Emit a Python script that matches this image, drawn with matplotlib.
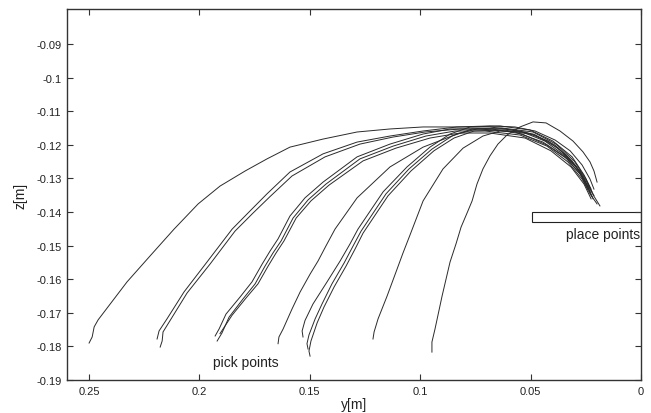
import matplotlib
matplotlib.use("Agg")
import matplotlib.pyplot as plt
from matplotlib.patches import Rectangle

plt.rcParams['font.family'] = ['Liberation Sans', 'DejaVu Sans']

# Trajectories (y[m], z[m])
curve_a_y = [0.2500, 0.2486, 0.2477, 0.2459, 0.2328, 0.2224, 0.2115, 0.2006, 0.1907, 0.1793, 0.1694, 0.1590,
             0.1440, 0.1286, 0.1137, 0.0987, 0.0833, 0.0684, 0.0571, 0.0480, 0.0389, 0.0321, 0.0267, 0.0231, 0.0213]
curve_a_z = [-0.1790, -0.1772, -0.1742, -0.1721, -0.1608, -0.1531, -0.1451, -0.1376, -0.1323, -0.1278, -0.1242, -0.1207,
             -0.1183, -0.1162, -0.1153, -0.1147, -0.1147, -0.1144, -0.1147, -0.1159, -0.1186, -0.1218, -0.1260, -0.1302, -0.1332]

curve_2a_y = [0.2192, 0.2183, 0.2147, 0.2070, 0.1966, 0.1852, 0.1771, 0.1694, 0.1590, 0.1440, 0.1286, 0.1137,
              0.0987, 0.0833, 0.0684, 0.0548, 0.0435, 0.0344, 0.0276, 0.0240, 0.0222]
curve_2a_z = [-0.1778, -0.1754, -0.1718, -0.1638, -0.1549, -0.1451, -0.1397, -0.1346, -0.1281, -0.1227, -0.1192, -0.1174,
              -0.1159, -0.1147, -0.1147, -0.1159, -0.1189, -0.1233, -0.1278, -0.1317, -0.1340]

curve_2b_y = [0.2178, 0.2169, 0.2165, 0.2133, 0.2056, 0.1952, 0.1839, 0.1757, 0.1680, 0.1581, 0.1431, 0.1273,
              0.1123, 0.0978, 0.0820, 0.0675, 0.0539, 0.0426, 0.0335, 0.0272, 0.0236, 0.0213]
curve_2b_z = [-0.1802, -0.1784, -0.1757, -0.1723, -0.1641, -0.1555, -0.1457, -0.1403, -0.1354, -0.1293, -0.1236, -0.1198,
              -0.1177, -0.1162, -0.1153, -0.1153, -0.1168, -0.1201, -0.1242, -0.1290, -0.1326, -0.1351]

curve_3a_y = [0.1929, 0.1911, 0.1880, 0.1816, 0.1762, 0.1716, 0.1680, 0.1644, 0.1590, 0.1522, 0.1440, 0.1286,
              0.1137, 0.0987, 0.0865, 0.0729, 0.0571, 0.0444, 0.0344, 0.0276, 0.0240]
curve_3a_z = [-0.1769, -0.1748, -0.1704, -0.1653, -0.1608, -0.1555, -0.1516, -0.1480, -0.1412, -0.1358, -0.1311, -0.1236,
              -0.1198, -0.1168, -0.1153, -0.1153, -0.1162, -0.1192, -0.1236, -0.1287, -0.1332]

curve_3b_y = [0.1920, 0.1898, 0.1866, 0.1803, 0.1748, 0.1703, 0.1667, 0.1630, 0.1576, 0.1508, 0.1427, 0.1273,
              0.1123, 0.0974, 0.0842, 0.0707, 0.0548, 0.0426, 0.0331, 0.0267, 0.0231, 0.0199]
curve_3b_z = [-0.1784, -0.1760, -0.1713, -0.1659, -0.1614, -0.1561, -0.1522, -0.1486, -0.1418, -0.1364, -0.1317, -0.1242,
              -0.1204, -0.1174, -0.1159, -0.1159, -0.1171, -0.1204, -0.1251, -0.1302, -0.1346, -0.1376]

curve_3c_y = [0.1907, 0.1893, 0.1852, 0.1789, 0.1735, 0.1689, 0.1653, 0.1617, 0.1562, 0.1495, 0.1413, 0.1259,
              0.1110, 0.0956, 0.0820, 0.0684, 0.0525, 0.0408, 0.0317, 0.0258, 0.0226]
curve_3c_z = [-0.1762, -0.1748, -0.1707, -0.1656, -0.1614, -0.1561, -0.1522, -0.1486, -0.1418, -0.1367, -0.1320, -0.1248,
              -0.1210, -0.1180, -0.1165, -0.1165, -0.1180, -0.1218, -0.1266, -0.1317, -0.1361]

curve_4_y = [0.1644, 0.1640, 0.1621, 0.1581, 0.1544, 0.1499, 0.1463, 0.1427, 0.1386, 0.1286, 0.1137, 0.0987,
             0.0833, 0.0743, 0.0616, 0.0489, 0.0389, 0.0312, 0.0258, 0.0231]
curve_4_z = [-0.1792, -0.1772, -0.1748, -0.1689, -0.1638, -0.1585, -0.1546, -0.1501, -0.1451, -0.1358, -0.1266, -0.1207,
             -0.1168, -0.1153, -0.1153, -0.1168, -0.1201, -0.1248, -0.1302, -0.1340]

curve_5a_y = [0.1531, 0.1535, 0.1522, 0.1486, 0.1422, 0.1363, 0.1318, 0.1282, 0.1168, 0.1060, 0.0956, 0.0865,
              0.0774, 0.0639, 0.0503, 0.0399, 0.0312, 0.0258, 0.0226]
curve_5a_z = [-0.1772, -0.1754, -0.1723, -0.1674, -0.1608, -0.1546, -0.1495, -0.1451, -0.1340, -0.1266, -0.1207, -0.1168,
              -0.1147, -0.1144, -0.1156, -0.1189, -0.1236, -0.1290, -0.1332]

curve_5b_y = [0.1508, 0.1513, 0.1504, 0.1476, 0.1445, 0.1400, 0.1345, 0.1304, 0.1268, 0.1155, 0.1051, 0.0947,
              0.0856, 0.0765, 0.0630, 0.0489, 0.0385, 0.0303, 0.0249, 0.0217, 0.0186]
curve_5b_z = [-0.1808, -0.1792, -0.1766, -0.1718, -0.1674, -0.1614, -0.1552, -0.1501, -0.1457, -0.1346, -0.1272, -0.1213,
              -0.1174, -0.1153, -0.1150, -0.1162, -0.1198, -0.1248, -0.1302, -0.1349, -0.1382]

curve_5c_y = [0.1499, 0.1504, 0.1495, 0.1467, 0.1436, 0.1390, 0.1336, 0.1295, 0.1259, 0.1146, 0.1042, 0.0938,
              0.0847, 0.0756, 0.0620, 0.0480, 0.0376, 0.0294, 0.0245, 0.0217]
curve_5c_z = [-0.1829, -0.1814, -0.1784, -0.1730, -0.1683, -0.1623, -0.1561, -0.1510, -0.1463, -0.1352, -0.1278, -0.1218,
              -0.1180, -0.1159, -0.1156, -0.1171, -0.1210, -0.1263, -0.1320, -0.1361]

curve_6_y = [0.1214, 0.1209, 0.1191, 0.1150, 0.1110, 0.1078, 0.1046, 0.0987, 0.0897, 0.0806, 0.0716, 0.0639,
             0.0525, 0.0421, 0.0340, 0.0276, 0.0240, 0.0222]
curve_6_z = [-0.1778, -0.1757, -0.1718, -0.1650, -0.1579, -0.1522, -0.1468, -0.1367, -0.1272, -0.1210, -0.1174, -0.1159,
             -0.1162, -0.1189, -0.1230, -0.1281, -0.1326, -0.1354]

curve_7_y = [0.0947, 0.0947, 0.0933, 0.0901, 0.0865, 0.0838, 0.0815, 0.0784, 0.0765, 0.0743, 0.0716, 0.0684,
             0.0648, 0.0607, 0.0548, 0.0489, 0.0430, 0.0367, 0.0308, 0.0263, 0.0231, 0.0213, 0.0199]
curve_7_z = [-0.1817, -0.1787, -0.1748, -0.1650, -0.1549, -0.1495, -0.1445, -0.1397, -0.1367, -0.1317, -0.1272, -0.1233,
             -0.1198, -0.1171, -0.1147, -0.1132, -0.1135, -0.1159, -0.1189, -0.1221, -0.1251, -0.1278, -0.1311]

curves = [
    (curve_a_y, curve_a_z), (curve_2a_y, curve_2a_z), (curve_2b_y, curve_2b_z),
    (curve_3a_y, curve_3a_z), (curve_3b_y, curve_3b_z), (curve_3c_y, curve_3c_z),
    (curve_4_y, curve_4_z), (curve_5a_y, curve_5a_z), (curve_5b_y, curve_5b_z),
    (curve_5c_y, curve_5c_z), (curve_6_y, curve_6_z), (curve_7_y, curve_7_z),
]

x_ticks = [0.25, 0.2, 0.15, 0.1, 0.05, 0]
x_tick_labels = ['0.25', '0.2', '0.15', '0.1', '0.05', '0']
y_ticks = [-0.19, -0.18, -0.17, -0.16, -0.15, -0.14, -0.13, -0.12, -0.11, -0.1, -0.09]
y_tick_labels = ['-0.19', '-0.18', '-0.17', '-0.16', '-0.15', '-0.14', '-0.13', '-0.12', '-0.11', '-0.1', '-0.09']

place_box_y = [0.0, 0.0495]
place_box_z = [-0.1431, -0.1401]

fig = plt.figure(figsize=(6.51, 4.14), dpi=100)
ax = fig.add_axes([67/651, 33/414, 574/651, 371/414])

for cy, cz in curves:
    ax.plot(cy, cz, color='#2a2a2a', lw=0.7)

ax.add_patch(Rectangle((place_box_y[0], place_box_z[0]), place_box_y[1] - place_box_y[0],
                       place_box_z[1] - place_box_z[0], fill=False, edgecolor='#222222', lw=0.8))

ax.text(0.0006, -0.1467, 'place points', ha='right', va='center', fontsize=10, color='#222222')
ax.text(0.1938, -0.1846, 'pick points', ha='left', va='center', fontsize=10, color='#222222')

ax.set_xlim(0.26, 0.0)
ax.set_ylim(-0.19, -0.0796)
ax.set_xticks(x_ticks)
ax.set_xticklabels(x_tick_labels)
ax.set_yticks(y_ticks)
ax.set_yticklabels(y_tick_labels)
ax.tick_params(direction='in', length=4, width=0.8, colors='#333333', labelsize=8,
               top=True, right=True, pad=4, labelcolor='#222222')
for s in ax.spines.values():
    s.set_linewidth(1.0)
    s.set_color('#333333')

ax.set_xlabel('y[m]', fontsize=10, labelpad=1, color='#222222')
ax.set_ylabel('z[m]', fontsize=10, labelpad=6, color='#222222')

fig.savefig('out.png', dpi=100)
